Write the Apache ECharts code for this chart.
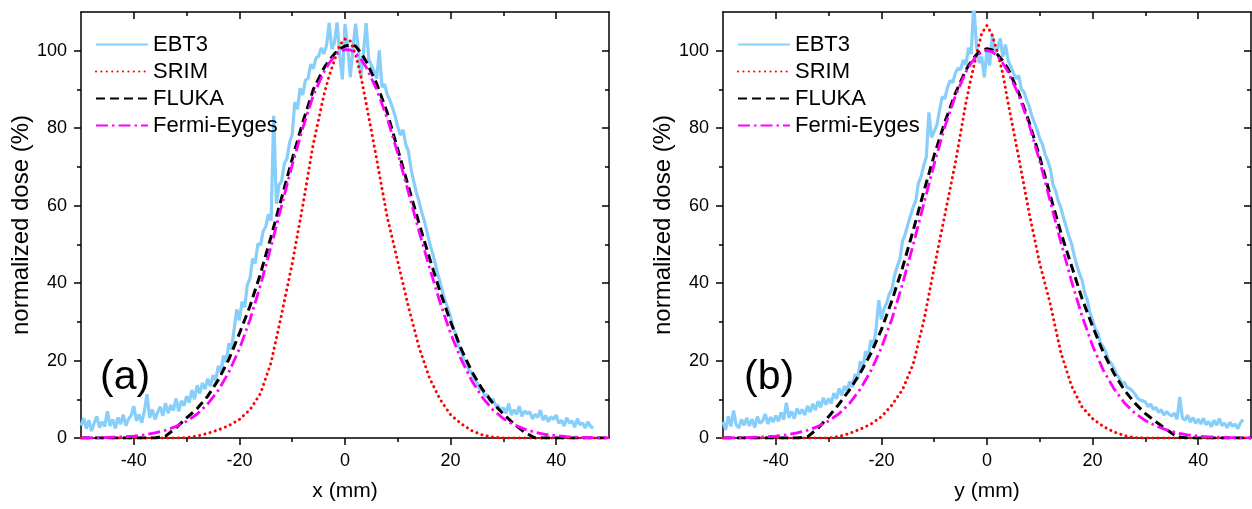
<!DOCTYPE html>
<html>
<head>
<meta charset="utf-8">
<script src="https://cdn.jsdelivr.net/npm/echarts@6/dist/echarts.min.js"></script>
<style>
html,body{margin:0;padding:0;background:#fff;}
#chart{width:1252px;height:509px;}
</style>
</head>
<body>
<div id="chart"></div>
<script>
// ---------------- data ----------------
// x grid (mm) shared by the smooth simulated profiles
const xGrid = [-50,-48,-46,-44,-42,-40,-38,-36,-34,-32,-30,-28,-26,-24,-22,-20,-18,-16,-14,-12,-10,-8,-6,
  -4,-3,-2,-1,0,1,2,3,4,
  6,8,10,12,14,16,18,20,22,24,26,28,30,32,34,36,38,40,42,44,46,48,50];

// panel (a) x-profile
const srimA  = [0,0,0,0,0,0,0,0,0,0,0.1,0.5,1.2,2.1,3.2,4.8,7.3,11.5,19.5,32,45,60,76,
  88.5,93.5,97.5,101.5,103,102.5,99,93.5,86.5,
  72,57,45.5,34,23.5,15.5,10,6,3.7,1.9,0.8,0.2,0,0,0,0,0,0,0,0,0,0,0];
const flukaA = [0,0,0,0,0,0,0,0,0.5,2.6,5.2,7.6,10.8,15,20.3,27,34,42.5,52,62,72,81.5,90,
  95.5,97.5,99.2,100.5,101.2,101.5,101.2,99.5,97.3,
  91.5,84,74.5,65,55.5,46.5,37.8,30,23,17.2,12.6,9,6.2,3.6,1.5,0,0,0,0,0,0,0,0];
const fermiA = [0,0.05,0.1,0.2,0.3,0.5,0.8,1.3,2.0,3.0,4.3,6.2,8.8,12.3,17,23,30.5,39.5,49.5,60,70.5,80,88.5,
  94.5,96.8,98.6,99.8,100.3,100.2,99.3,97.8,95.8,
  90,82.5,73.5,63.5,53.5,44,35,27,20.3,14.8,10.5,7.3,5.0,3.4,2.3,1.5,0.9,0.6,0.35,0.2,0.1,0.05,0];

// panel (b) y-profile
const srimB  = [0,0,0,0,0,0,0,0,0,0,0,0.4,1.2,2.3,3.6,5.5,8.5,12.5,19,30,44,57.5,71,
  86.5,93,99,104.5,106.5,104,99.5,94,86.5,
  72.5,58,45,34.5,22,13.5,8,5,3,1.6,0.6,0.1,0,0,0,0,0,0,0,0,0,0,0];
const flukaB = [0,0,0,0,0,0,0,0,0.3,2.5,5.5,8.8,12.5,16.8,21.8,28,35.5,44,53.5,63.5,73,81.5,89,
  95,97.2,99,100.2,100.5,100.2,99,97.4,95.3,
  89.2,81.5,72.5,62.5,53,44.5,36,28.8,22.2,16.8,12.4,9,6.3,4.2,2.2,0.3,0,0,0,0,0,0,0];
const fermiB = [0,0.05,0.1,0.2,0.3,0.5,0.8,1.3,2.0,3.0,4.4,6.3,9,12.6,17.3,23.3,30.8,39.8,49.8,60.3,70.8,80.3,88.3,
  94.5,96.8,98.6,99.7,100.1,99.7,98.6,96.8,94.5,
  88.6,80.8,71.4,61,50.5,40.5,31.5,23.8,17.6,12.8,9.1,6.4,4.5,3.1,2.1,1.3,0.8,0.5,0.3,0.2,0.1,0.05,0];

// EBT3 film scans, sampled every 0.5 mm starting at -50 mm
const ebt3Start = -50, ebt3Step = 0.5;
const ebt3A = [
  3.2,5.1,2.4,4.6,1.8,3.9,5.6,2.7,4.2,3.0,
  6.9,3.1,4.8,2.5,5.3,3.6,6.0,3.2,4.9,5.8,
  8.2,4.4,6.1,3.9,7.0,11.3,5.2,7.4,4.8,6.6,
  8.1,5.7,9.0,6.4,8.5,7.1,10.2,6.9,9.6,8.3,
  10.8,9.1,12.4,10.0,13.6,11.5,14.2,12.6,15.3,13.4,
  16.2,14.8,18.6,17.1,21.3,19.6,24.4,22.9,28.1,33.2,
  30.4,35.2,33.8,39.5,41.2,46.3,45.1,50.2,49.8,53.4,
  54.6,57.8,56.1,83.2,60.5,65.3,66.4,70.8,72.1,76.3,
  78.4,86.7,84.9,90.3,88.6,92.4,92.8,96.5,95.4,98.1,
  98.6,100.7,99.2,101.3,107.2,100.4,102.1,107.3,98.8,92.6,
  106.9,101.2,93.2,100.5,107.0,100.8,93.4,99.6,107.1,97.8,
  96.2,94.7,92.8,100.1,90.6,91.4,88.7,87.2,85.3,83.1,
  80.3,78.2,79.6,75.8,74.1,69.6,66.3,63.5,61.2,58.4,
  56.2,53.4,50.5,48.1,45.6,42.7,40.3,37.6,35.2,33.5,
  31.2,28.4,26.6,23.8,22.5,20.4,19.3,17.6,16.8,15.1,
  14.3,12.6,12.5,10.8,11.2,9.4,10.1,8.5,8.4,7.2,
  7.8,6.4,8.9,5.9,7.3,6.1,8.2,5.6,7.0,6.3,
  6.8,4.9,6.1,5.3,7.2,4.6,5.8,4.2,5.5,4.8,
  5.9,3.8,4.6,3.1,5.2,3.9,4.4,2.8,5.0,3.4,
  3.9,2.6,4.2,3.0,2.5];
const ebt3B = [
  4.2,2.1,5.6,3.0,7.1,3.4,2.6,4.8,3.3,5.2,
  3.1,4.9,2.7,5.5,3.8,4.4,6.2,3.6,5.4,4.1,
  5.8,4.3,6.6,4.7,9.1,5.2,6.9,5.0,7.6,6.2,
  7.4,5.9,8.3,6.7,8.8,7.2,9.5,7.9,10.4,8.6,
  10.2,8.9,11.6,10.1,12.8,11.0,13.4,12.2,14.6,13.1,
  16.5,15.2,19.8,18.1,22.4,21.0,25.3,23.6,28.4,35.6,
  30.6,33.4,34.8,37.2,38.5,42.1,44.3,46.2,50.8,52.6,
  55.1,57.3,59.6,61.2,65.8,67.4,70.3,72.5,84.1,77.6,
  79.2,80.8,84.5,88.1,87.6,90.4,92.3,91.8,94.2,95.5,
  95.1,97.6,96.3,100.8,99.2,112.0,101.4,96.8,98.5,93.1,
  100.4,96.2,104.1,99.3,100.6,103.2,98.4,101.6,97.5,96.0,
  94.3,92.8,93.6,90.1,89.4,87.2,85.6,83.1,81.4,79.5,
  77.3,75.8,73.2,71.6,69.5,65.4,63.8,61.2,59.4,56.8,
  54.6,52.1,50.3,47.2,44.6,42.5,40.8,37.4,35.6,32.3,
  30.4,28.2,27.1,24.5,23.6,22.2,20.1,19.3,18.2,16.5,
  15.6,14.2,14.4,13.1,12.8,12.2,11.4,10.3,9.8,9.6,
  9.3,8.1,8.8,7.4,7.9,6.6,7.3,5.9,6.8,6.1,
  5.7,6.4,4.8,10.6,5.2,4.6,5.9,4.1,5.3,3.8,
  4.9,3.6,5.1,3.4,4.3,2.9,4.6,3.3,5.0,3.2,
  3.8,2.7,4.1,3.0,3.6,2.4,3.9,4.8];

// axis ticks / labels
const xMajor = [-40,-20,0,20,40];
const xMinor = [-30,-10,10,30];
const yMajor = [0,20,40,60,80,100];
const yMinor = [10,30,50,70,90];
const seriesNames = ['EBT3','SRIM','FLUKA','Fermi-Eyges'];
const panelLabels = ['(a)','(b)'];
const xNames = ['x (mm)','y (mm)'];
const yName = 'normalized dose (%)';

// ---------------- chart ----------------
const FONT = 'Liberation Sans, Arial, sans-serif';
const chart = echarts.init(document.getElementById('chart'), null, {renderer:'canvas'});

const gridLeft = [81, 723];
const grids = gridLeft.map(l => ({left:l, top:12, width:528, height:426, containLabel:false}));

const AX = {color:'#000', width:1.5};
function xAxesFor(g){
  const base = {type:'value', gridIndex:g, min:-50, max:50, splitLine:{show:false}};
  return [
    Object.assign({}, base, {position:'bottom',
      axisLine:{show:true, onZero:false, lineStyle:AX},
      axisTick:{show:true, customValues:xMajor, length:7, lineStyle:AX},
      axisLabel:{show:true, customValues:xMajor, color:'#000', fontSize:18, fontFamily:FONT, margin:14},
      name:xNames[g], nameLocation:'middle', nameGap:43,
      nameTextStyle:{color:'#000', fontSize:21, fontFamily:FONT}}),
    Object.assign({}, base, {position:'bottom',
      axisLine:{show:false, onZero:false},
      axisTick:{show:true, customValues:xMinor, length:4, lineStyle:AX},
      axisLabel:{show:false}}),
    Object.assign({}, base, {position:'top',
      axisLine:{show:true, onZero:false, lineStyle:AX},
      axisTick:{show:true, inside:true, customValues:xMajor, length:7, lineStyle:AX},
      axisLabel:{show:false}}),
    Object.assign({}, base, {position:'top',
      axisLine:{show:false, onZero:false},
      axisTick:{show:true, inside:true, customValues:xMinor, length:4, lineStyle:AX},
      axisLabel:{show:false}})
  ];
}
function yAxesFor(g){
  const base = {type:'value', gridIndex:g, min:0, max:110, splitLine:{show:false}};
  return [
    Object.assign({}, base, {position:'left',
      axisLine:{show:true, onZero:false, lineStyle:AX},
      axisTick:{show:true, customValues:yMajor, length:7, lineStyle:AX},
      axisLabel:{show:true, customValues:yMajor, color:'#000', fontSize:18, fontFamily:FONT, margin:14},
      name:yName, nameLocation:'middle', nameGap:48,
      nameTextStyle:{color:'#000', fontSize:24, fontFamily:FONT}}),
    Object.assign({}, base, {position:'left',
      axisLine:{show:false, onZero:false},
      axisTick:{show:true, customValues:yMinor, length:4, lineStyle:AX},
      axisLabel:{show:false}}),
    Object.assign({}, base, {position:'right',
      axisLine:{show:true, onZero:false, lineStyle:AX},
      axisTick:{show:true, inside:true, customValues:yMajor, length:7, lineStyle:AX},
      axisLabel:{show:false}}),
    Object.assign({}, base, {position:'right',
      axisLine:{show:false, onZero:false},
      axisTick:{show:true, inside:true, customValues:yMinor, length:4, lineStyle:AX},
      axisLabel:{show:false}})
  ];
}

const styles = {
  'EBT3':        {color:'#87CEFA', width:3.2, type:'solid'},
  'SRIM':        {color:'#FF0000', width:3,   type:[0.1,5.3], cap:'round'},
  'FLUKA':       {color:'#000000', width:3,   type:[9,5]},
  'Fermi-Eyges': {color:'#FF00FF', width:2.8, type:[12,4,2.5,4]}
};

function pairs(xs, ys){ return ys.map((v,i)=>[xs[i], v]); }
function ebtPairs(ys){ return ys.map((v,i)=>[ebt3Start + i*ebt3Step, v]); }

const panelData = [
  {EBT3:ebtPairs(ebt3A), SRIM:pairs(xGrid,srimA), FLUKA:pairs(xGrid,flukaA), 'Fermi-Eyges':pairs(xGrid,fermiA)},
  {EBT3:ebtPairs(ebt3B), SRIM:pairs(xGrid,srimB), FLUKA:pairs(xGrid,flukaB), 'Fermi-Eyges':pairs(xGrid,fermiB)}
];

const series = [];
panelData.forEach((pd, g) => {
  seriesNames.forEach((n, k) => {
    const s = styles[n];
    series.push({
      name:n, type:'line', xAxisIndex:4*g, yAxisIndex:4*g,
      data:pd[n], symbol:'none', showSymbol:false, smooth:false, clip:true,
      color:s.color, z:2+k,
      lineStyle:{color:s.color, width:s.width, type:s.type, cap:s.cap || 'butt'},
      itemStyle:{color:s.color},
      emphasis:{disabled:true}
    });
  });
});

const legendLeft = [95, 737];
const legends = legendLeft.map(l => ({
  left:l, top:31, orient:'vertical', padding:0, itemGap:0,
  itemWidth:52, itemHeight:14, data:seriesNames, selectedMode:false,
  itemStyle:{opacity:0},
  textStyle:{color:'#000', fontSize:22, fontFamily:FONT, lineHeight:27}
}));

const titles = panelLabels.map((t, g) => ({
  text:t, left:[100, 744][g], top:357, padding:0,
  textStyle:{color:'#000', fontSize:41, fontWeight:'normal', fontFamily:FONT}
}));

chart.setOption({
  animation:false,
  backgroundColor:'#fff',
  title:titles,
  legend:legends,
  grid:grids,
  xAxis:[...xAxesFor(0), ...xAxesFor(1)],
  yAxis:[...yAxesFor(0), ...yAxesFor(1)],
  series:series
});
</script>
</body>
</html>
